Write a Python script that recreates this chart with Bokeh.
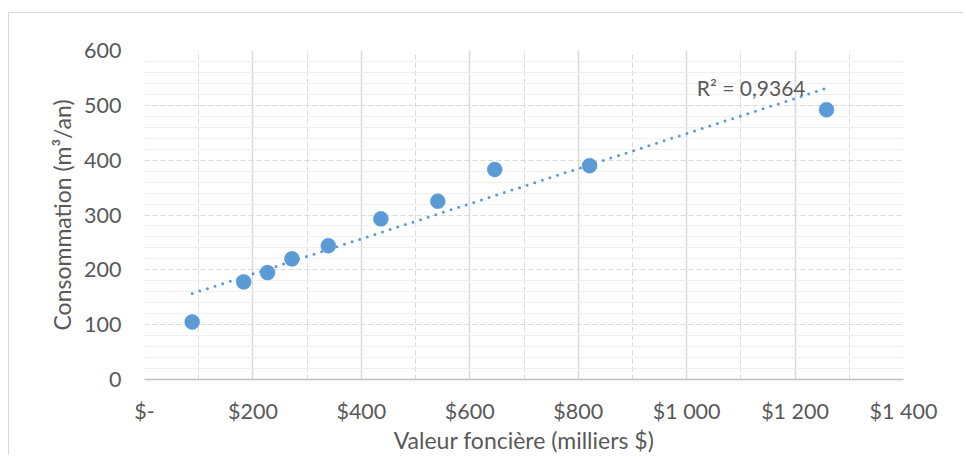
import numpy as np
from bokeh.plotting import figure
from bokeh.models import Range1d, FixedTicker, Label, ColumnDataSource
from bokeh.embed import file_html
from bokeh.resources import INLINE

# ---- data ----
valeur = [88, 183, 227, 272, 339, 436, 541, 646, 821, 1258]
consommation = [105, 178, 195, 220, 244, 293, 325, 383, 390, 492]
x_ticks = [0, 200, 400, 600, 800, 1000, 1200, 1400]
x_tick_labels = ["$-", "$200", "$400", "$600", "$800", "$1 000", "$1 200", "$1 400"]
x_minor = [100, 300, 500, 700, 900, 1100, 1300]
y_ticks = [0, 100, 200, 300, 400, 500, 600]
y_minor = [v for v in range(20, 600, 20) if v % 100 != 0]
r2_text = "R\u00b2 = 0,9364"
x_title = "Valeur fonci\u00e8re (milliers $)"
y_title = "Consommation (m\u00b3/an)"

FONT = "Lato"
TXT = "#595959"
BLUE = "#5b9bd5"

p = figure(width=955, height=443, output_backend="svg", toolbar_location=None,
           x_range=Range1d(0, 1400), y_range=Range1d(0, 600),
           min_border_left=135, min_border_top=37, min_border_right=61, min_border_bottom=76)
p.styles = {"margin-top": "12px", "margin-left": "8px",
            "border-top": "1px solid #d9d9d9", "border-left": "1px solid #d9d9d9"}
p.outline_line_color = None
p.background_fill_color = "white"
p.border_fill_color = "white"

# axes
p.xaxis.ticker = FixedTicker(ticks=x_ticks, minor_ticks=x_minor)
p.xaxis.major_label_overrides = {t: l for t, l in zip(x_ticks, x_tick_labels)}
p.yaxis.ticker = FixedTicker(ticks=y_ticks, minor_ticks=y_minor)
for ax in (p.xaxis[0], p.yaxis[0]):
    ax.major_tick_line_color = None
    ax.minor_tick_line_color = None
    ax.major_tick_out = 0
    ax.major_tick_in = 0
    ax.minor_tick_out = 0
    ax.major_label_text_font = FONT
    ax.major_label_text_font_size = "21.5px"
    ax.major_label_text_color = TXT
    ax.axis_label_text_font = FONT
    ax.axis_label_text_font_size = "23px"
    ax.axis_label_text_color = TXT
    ax.axis_label_text_font_style = "normal"
p.xaxis.axis_line_color = "#bfbfbf"
p.xaxis.axis_line_width = 1.5
p.yaxis.axis_line_color = None
p.xaxis.axis_label = x_title
p.yaxis.axis_label = y_title
p.xaxis.major_label_standoff = 18
p.yaxis.major_label_standoff = 23
p.xaxis.axis_label_standoff = -1
p.yaxis.axis_label_standoff = 5

# grids
p.xgrid.ticker = FixedTicker(ticks=x_ticks, minor_ticks=x_minor)
p.xgrid.grid_line_color = "#d9d9d9"
p.xgrid.grid_line_width = 1.5
p.xgrid.minor_grid_line_color = "#d9d9d9"
p.xgrid.minor_grid_line_width = 1
p.xgrid.minor_grid_line_dash = "5 3"

p.ygrid.ticker = FixedTicker(ticks=y_ticks, minor_ticks=y_minor)
p.ygrid.grid_line_color = "#d9d9d9"
p.ygrid.grid_line_width = 1
p.ygrid.grid_line_dash = "5 3"
p.ygrid.minor_grid_line_color = "#f0f0f0"
p.ygrid.minor_grid_line_width = 1

# trendline (least squares)
slope, intercept = np.polyfit(valeur, consommation, 1)
tx = [min(valeur), max(valeur)]
ty = [slope * v + intercept for v in tx]
p.line(tx, ty, line_color=BLUE, line_width=3, line_dash="0 8", line_cap="round")

src = ColumnDataSource(dict(x=valeur, y=consommation))
p.scatter("x", "y", source=src, size=15, fill_color=BLUE, line_color=BLUE, line_width=0.5)

lab = Label(x=tx[1], y=ty[1], x_offset=-21, y_offset=1, text=r2_text,
            text_align="right", text_baseline="middle", text_font=FONT,
            text_font_size="21px", text_color=TXT)
p.add_layout(lab)

open("out.html", "w").write(file_html(p, INLINE))
